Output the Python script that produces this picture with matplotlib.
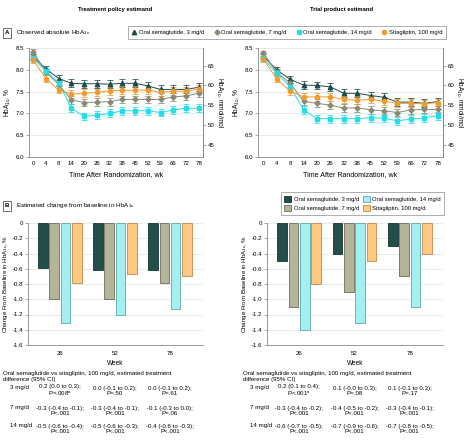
import matplotlib

matplotlib.use("Agg")
import matplotlib.pyplot as plt
import matplotlib.transforms as mtransforms
from matplotlib.lines import Line2D
from matplotlib.patches import Patch
import numpy as np

plt.rcParams["font.family"] = ["Liberation Sans", "DejaVu Sans"]
plt.rcParams["mathtext.default"] = "regular"

# ---- data -------------------------------------------------------------
weeks = ["0", "4", "8", "14", "20", "26", "32", "38", "45", "52", "59", "66", "72", "78"]
series = ["Oral semaglutide, 3 mg/d", "Oral semaglutide, 7 mg/d",
          "Oral semaglutide, 14 mg/d", "Sitagliptin, 100 mg/d"]

policy_3 = [8.30, 8.02, 7.80, 7.69, 7.68, 7.68, 7.67, 7.69, 7.69, 7.63, 7.55, 7.55, 7.55, 7.60]
policy_7 = [8.41, 7.95, 7.66, 7.31, 7.25, 7.26, 7.27, 7.32, 7.32, 7.32, 7.32, 7.38, 7.40, 7.46]
policy_14 = [8.26, 7.97, 7.70, 7.12, 6.93, 6.96, 7.00, 7.06, 7.06, 7.06, 7.02, 7.08, 7.12, 7.12]
policy_sita = [8.22, 7.80, 7.54, 7.44, 7.46, 7.48, 7.52, 7.53, 7.53, 7.54, 7.48, 7.51, 7.51, 7.56]

trial_3 = [8.31, 8.00, 7.78, 7.65, 7.64, 7.61, 7.46, 7.46, 7.41, 7.37, 7.26, 7.26, 7.23, 7.27]
trial_7 = [8.38, 7.94, 7.69, 7.28, 7.23, 7.19, 7.12, 7.13, 7.08, 7.06, 7.02, 7.08, 7.09, 7.09]
trial_14 = [8.26, 7.92, 7.61, 7.08, 6.88, 6.88, 6.88, 6.88, 6.90, 6.89, 6.83, 6.87, 6.89, 6.95]
trial_sita = [8.24, 7.79, 7.51, 7.38, 7.38, 7.38, 7.32, 7.30, 7.32, 7.28, 7.23, 7.23, 7.22, 7.25]

err = [0.06, 0.07, 0.08, 0.09, 0.09, 0.09, 0.09, 0.09, 0.09, 0.09, 0.09, 0.09, 0.09, 0.09]

bar_weeks = ["26", "52", "78"]
policy_change = {
    "3": [-0.59, -0.61, -0.61],
    "7": [-1.00, -1.00, -0.79],
    "14": [-1.31, -1.21, -1.13],
    "sita": [-0.79, -0.67, -0.70],
}
trial_change = {
    "3": [-0.50, -0.40, -0.30],
    "7": [-1.10, -0.90, -0.70],
    "14": [-1.40, -1.31, -1.10],
    "sita": [-0.80, -0.50, -0.40],
}
bar_ticks = [0, -0.2, -0.4, -0.6, -0.8, -1.0, -1.2, -1.4, -1.6]
bar_tick_labels = ["0", "-0.2", "-0.4", "-0.6", "-0.8", "-1.0", "-1.2", "-1.4", "-1.6"]

dose_rows = ["3 mg/d", "7 mg/d", "14 mg/d"]
policy_diff = [
    ["0.2 (0.0 to 0.3);\nP=.008$^a$", "0.0 (-0.1 to 0.2);\nP=.50", "0.0 (-0.1 to 0.2);\nP=.61"],
    ["-0.3 (-0.4 to -0.1);\nP<.001", "-0.3 (-0.4 to -0.1);\nP<.001", "-0.1 (-0.3 to 0.0);\nP=.06"],
    ["-0.5 (-0.6 to -0.4);\nP<.001", "-0.5 (-0.6 to -0.3);\nP<.001", "-0.4 (-0.6 to -0.3);\nP<.001"],
]
trial_diff = [
    ["0.2 (0.1 to 0.4);\nP<.001$^a$", "0.1 (-0.0 to 0.3);\nP=.08", "0.1 (-0.1 to 0.3);\nP=.17"],
    ["-0.3 (-0.4 to -0.2);\nP<.001", "-0.4 (-0.5 to -0.2);\nP<.001", "-0.3 (-0.4 to -0.1);\nP<.001"],
    ["-0.6 (-0.7 to -0.5);\nP<.001", "-0.7 (-0.9 to -0.6);\nP<.001", "-0.7 (-0.8 to -0.5);\nP<.001"],
]

# ---- styles -----------------------------------------------------------
line_colors = ["#1f4d4a", "#8a8a74", "#25dde6", "#f29a2e"]
markers = ["^", "D", "s", "o"]
marker_sizes = [3.2, 2.6, 3.0, 3.0]
bar_colors = ["#234f4b", "#b4b49b", "#a4f0f0", "#ffc982"]
bar_edges = ["#173330", "#6e6e58", "#5fa8a8", "#c0894a"]
FS = 4.4

fig = plt.figure(figsize=(4.67, 4.41), dpi=100)
W, H = 467.0, 441.0


def px_axes(x0, y0, x1, y1):
    return fig.add_axes([x0 / W, 1 - y1 / H, (x1 - x0) / W, (y1 - y0) / H])


def to_mmol(v):
    return 10.929 * (v - 2.15)


def line_panel(ax, data, xpad):
    x = np.arange(len(weeks))
    for vals, c, m, ms in zip(data, line_colors, markers, marker_sizes):
        ax.errorbar(x, vals, yerr=err, color=c, marker=m, markersize=ms, lw=0.7,
                    elinewidth=0.55, capsize=2, capthick=0.55, zorder=3)
    ax.set_xlim(-xpad, len(weeks) - 1 + xpad)
    ax.set_ylim(6.0, 8.5)
    ax.set_yticks([6.0, 6.5, 7.0, 7.5, 8.0, 8.5])
    ax.set_yticklabels(["6.0", "6.5", "7.0", "7.5", "8.0", "8.5"])
    ax.set_xticks(x)
    ax.set_xticklabels(weeks)
    ax.yaxis.grid(True, color="#e6e6e6", lw=0.6)
    ax.set_axisbelow(True)
    ax.spines["top"].set_visible(False)
    for s in ["left", "bottom", "right"]:
        ax.spines[s].set_color("#888888")
        ax.spines[s].set_linewidth(0.6)
    ax.tick_params(labelsize=FS, length=2, width=0.5, color="#888888", pad=1.5)
    ax.tick_params(axis="x", length=0, pad=3)
    ax.set_ylabel("HbA$_{1c}$, %", fontsize=FS + 0.3, labelpad=2)
    ax.set_xlabel("Time After Randomization, wk", fontsize=5.1, labelpad=3.5)
    ax2 = ax.twinx()
    ax2.set_ylim(to_mmol(6.0), to_mmol(8.5))
    ax2.set_yticks([45, 50, 55, 60, 65])
    for s in ["top", "left", "bottom"]:
        ax2.spines[s].set_visible(False)
    ax2.spines["right"].set_color("#888888")
    ax2.spines["right"].set_linewidth(0.6)
    ax2.tick_params(labelsize=FS, length=2, width=0.5, color="#888888", pad=1.5)
    ax2.set_ylabel("HbA$_{1c}$, mmol/mol", fontsize=FS + 0.3, rotation=270, labelpad=7)


def bar_panel(ax, data, diffs, row_x):
    x = np.arange(len(bar_weeks))
    keys = ["3", "7", "14", "sita"]
    step, width = 0.205, 0.175
    for i, k in enumerate(keys):
        ax.bar(x + (i - 1.5) * step, data[k], width=width, color=bar_colors[i],
               edgecolor=bar_edges[i], linewidth=0.6, zorder=3)
    ax.set_xlim(-0.58, 2.6)
    ax.set_ylim(-1.6, 0)
    ax.set_yticks(bar_ticks)
    ax.set_yticklabels(bar_tick_labels)
    ax.set_xticks(x)
    ax.set_xticklabels(bar_weeks)
    ax.yaxis.grid(True, color="#e6e6e6", lw=0.6)
    ax.set_axisbelow(True)
    for s in ["top", "right"]:
        ax.spines[s].set_visible(False)
    for s in ["left", "bottom"]:
        ax.spines[s].set_color("#888888")
        ax.spines[s].set_linewidth(0.6)
    ax.tick_params(labelsize=FS, length=2, width=0.5, color="#888888", pad=1.5)
    ax.tick_params(axis="x", length=0, pad=4)
    ax.set_xlabel("Week", fontsize=FS + 0.3, labelpad=3)
    ax.set_ylabel("Change From Baseline in HbA$_{1c}$, %", fontsize=FS, labelpad=2)

    trans = mtransforms.blended_transform_factory(ax.transData, fig.transFigure)
    fig.text(row_x / W, 1 - 376 / H,
             "Oral semaglutide vs sitagliptin, 100 mg/d, estimated treatment\ndifference (95% CI)",
             fontsize=FS, va="center", ha="left", linespacing=1.25)
    row_y = [391, 411, 429]
    for r, (lab, yy) in enumerate(zip(dose_rows, row_y)):
        fig.text((row_x + 7) / W, 1 - (yy - 3) / H, lab, fontsize=FS, va="center", ha="left")
        for c in range(3):
            fig.text(x[c], 1 - yy / H, diffs[r][c], transform=trans, fontsize=FS,
                     ha="center", va="center", linespacing=1.15)


ax_a1 = px_axes(29, 48, 203, 157)
line_panel(ax_a1, [policy_3, policy_7, policy_14, policy_sita], 0.33)
ax_a2 = px_axes(258, 48, 443, 157)
line_panel(ax_a2, [trial_3, trial_7, trial_14, trial_sita], 0.4)

ax_b1 = px_axes(28, 223, 203, 345)
bar_panel(ax_b1, policy_change, policy_diff, 3)
ax_b2 = px_axes(267, 223, 443, 345)
bar_panel(ax_b2, trial_change, trial_diff, 243)

# column titles
fig.text(115 / W, 1 - 10 / H, "Treatment policy estimand", fontsize=4.2, fontweight="bold",
         ha="center", va="center")
fig.text(342 / W, 1 - 10 / H, "Trial product estimand", fontsize=4.2, fontweight="bold",
         ha="center", va="center")

# panel labels
box = dict(boxstyle="square,pad=0.35", fc="white", ec="#555555", lw=0.6)
fig.text(7 / W, 1 - 33 / H, "A", fontsize=FS, fontweight="bold", ha="center", va="center",
         bbox=box)
fig.text(16 / W, 1 - 33 / H, "Observed absolute HbA$_{1c}$", fontsize=FS + 0.2,
         ha="left", va="center")
fig.text(7 / W, 1 - 206 / H, "B", fontsize=FS, fontweight="bold", ha="center", va="center",
         bbox=box)
fig.text(16 / W, 1 - 206 / H, "Estimated change from baseline in HbA$_{1c}$", fontsize=FS + 0.2,
         ha="left", va="center")

# legends
line_handles = [Line2D([], [], color=c, marker=m, markersize=ms, lw=0)
                for c, m, ms in zip(line_colors, markers, marker_sizes)]
leg = fig.legend(line_handles, series, ncol=4, fontsize=4.2, loc="center",
                 bbox_to_anchor=(287 / W, 1 - 32.5 / H), frameon=True, fancybox=False,
                 handletextpad=0.3, columnspacing=1.6, borderpad=0.6, handlelength=1.0)
leg.get_frame().set_edgecolor("#888888")
leg.get_frame().set_linewidth(0.6)

bar_handles = [Patch(facecolor=fc, edgecolor=ec, lw=0.6) for fc, ec in zip(bar_colors, bar_edges)]
leg2 = fig.legend(bar_handles, series, ncol=2, fontsize=4.2, loc="center",
                  bbox_to_anchor=(362.5 / W, 1 - 203.5 / H), frameon=True, fancybox=False,
                  handletextpad=0.35, columnspacing=0.7, borderpad=0.6, handlelength=1.2,
                  handleheight=1.3, labelspacing=0.4)
leg2.get_frame().set_edgecolor("#888888")
leg2.get_frame().set_linewidth(0.6)

fig.savefig("out.png", dpi=100)
